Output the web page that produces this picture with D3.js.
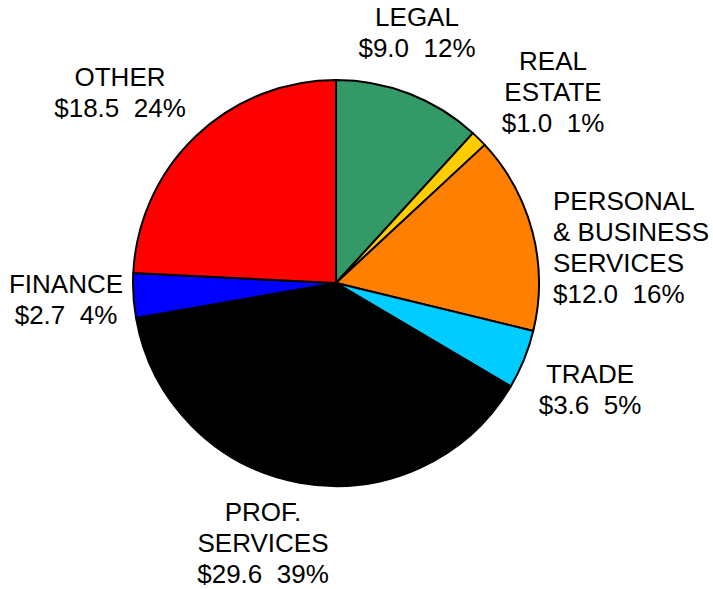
<!DOCTYPE html>
<html>
<head>
<meta charset="utf-8">
<script src="https://cdn.jsdelivr.net/npm/d3@7/dist/d3.min.js"></script>
<style>
html,body{margin:0;padding:0;background:#fff;}
svg{display:block;}
text{font-family:"Liberation Sans",Arial,sans-serif;font-size:26px;fill:#000;}
</style>
</head>
<body>
<svg id="chart" width="713" height="589"></svg>
<script>
// Data
const categories = ["LEGAL", "REAL ESTATE", "PERSONAL & BUSINESS SERVICES", "TRADE", "PROF. SERVICES", "FINANCE", "OTHER"];
const values = [9.0, 1.0, 12.0, 3.6, 29.6, 2.7, 18.5];
const percents = ["12%", "1%", "16%", "5%", "39%", "4%", "24%"];
const labelLines = [["LEGAL"], ["REAL", "ESTATE"], ["PERSONAL", "& BUSINESS", "SERVICES"], ["TRADE"], ["PROF.", "SERVICES"], ["FINANCE"], ["OTHER"]];
const colors = ["#339966", "#FFCC00", "#FF8000", "#00CCFF", "#000000", "#0000FF", "#FF0000"];

// Layout (label anchors: x, first baseline, anchor)
const labelLayout = [
  {x: 417, y: 26, anchor: "middle"},
  {x: 553, y: 70, anchor: "middle"},
  {x: 553, y: 210, anchor: "start"},
  {x: 590, y: 383, anchor: "middle"},
  {x: 263, y: 521, anchor: "middle"},
  {x: 66, y: 293, anchor: "middle"},
  {x: 120, y: 86, anchor: "middle"}
];
const cx = 336, cy = 283, r = 203, lineH = 31;

const data = categories.map((c, i) => ({cat: c, value: values[i], pct: percents[i], lines: labelLines[i], color: colors[i]}));

const svg = d3.select("#chart");
const pie = d3.pie().value(d => d.value).sort(null);
const arc = d3.arc().innerRadius(0).outerRadius(r);

const g = svg.append("g").attr("transform", `translate(${cx},${cy})`);
g.selectAll("path")
  .data(pie(data))
  .join("path")
  .attr("d", arc)
  .attr("fill", d => d.data.color)
  .attr("stroke", "#000")
  .attr("stroke-width", 2)
  .attr("stroke-linejoin", "round");

const labels = svg.append("g");
data.forEach((d, i) => {
  const L = labelLayout[i];
  const lines = d.lines.concat([`$${d.value.toFixed(1)}\u00a0\u00a0${d.pct}`]);
  const t = labels.append("text")
    .attr("text-anchor", L.anchor);
  lines.forEach((ln, j) => {
    t.append("tspan").attr("x", L.x).attr("y", L.y + j * lineH).text(ln);
  });
});
</script>
</body>
</html>
